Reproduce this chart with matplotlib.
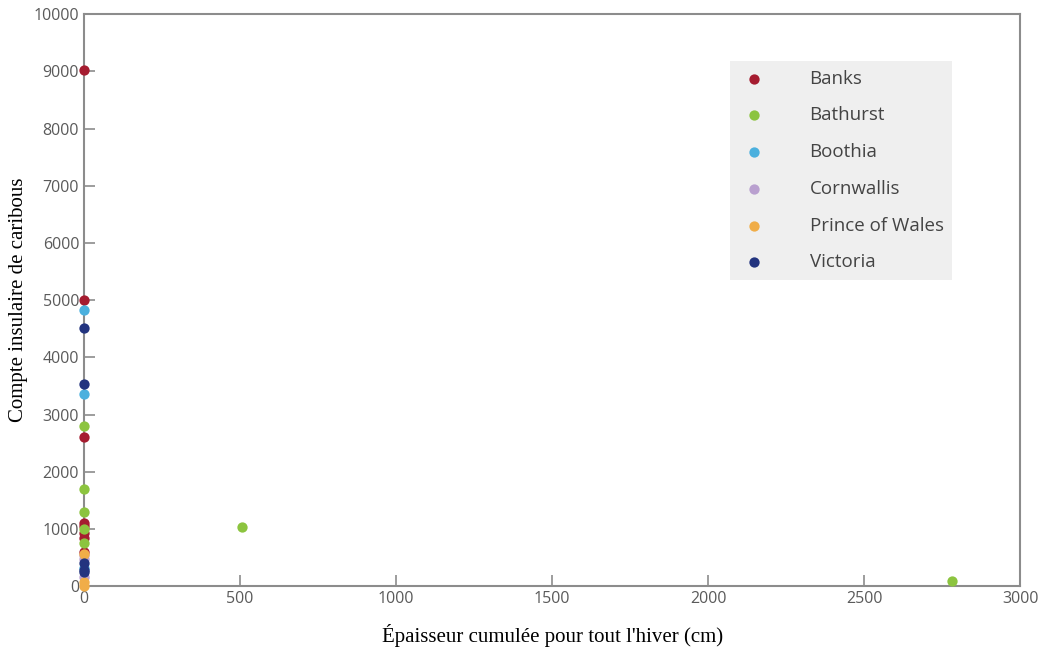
import matplotlib.pyplot as plt

islands = ["Banks", "Bathurst", "Boothia", "Cornwallis", "Prince of Wales", "Victoria"]
colors = ["#a51c30", "#8cc43f", "#4bb0de", "#b9a0cf", "#f0ad48", "#23347f"]

banks_x = [0, 0, 0, 0, 0, 0, 0, 0]
banks_y = [9030, 5000, 2600, 1100, 1060, 930, 850, 600]
bathurst_x = [0, 0, 0, 0, 0, 505, 2780]
bathurst_y = [2800, 1700, 1290, 1000, 760, 1030, 90]
boothia_x = [0, 0, 0]
boothia_y = [4830, 3360, 320]
cornwallis_x = [0, 0, 0]
cornwallis_y = [540, 480, 160]
pow_x = [0, 0, 0]
pow_y = [560, 70, 0]
victoria_x = [0, 0, 0, 0, 0]
victoria_y = [4510, 3530, 400, 290, 240]

xs = [banks_x, bathurst_x, boothia_x, cornwallis_x, pow_x, victoria_x]
ys = [banks_y, bathurst_y, boothia_y, cornwallis_y, pow_y, victoria_y]

fig = plt.figure(figsize=(10.38, 6.47), dpi=100)
ax = fig.add_axes([0.081, 0.094, 0.902, 0.884])

for name, c, x, y in zip(islands, colors, xs, ys):
    ax.scatter(x, y, s=55, color=c, label=name, zorder=3, clip_on=False, linewidths=0)

ax.set_xlim(0, 3000)
ax.set_ylim(0, 10000)
ax.set_xticks(range(0, 3001, 500))
ax.set_yticks(range(0, 10001, 1000))

for sp in ax.spines.values():
    sp.set_color("#8c8c8c")
    sp.set_linewidth(1.5)

ax.tick_params(direction="in", length=8, width=1.2, color="#8c8c8c",
               labelcolor="#5a5a5a", labelsize=11.5)
for lbl in ax.get_xticklabels() + ax.get_yticklabels():
    lbl.set_family("Open Sans")

ax.set_xlabel("Épaisseur cumulée pour tout l'hiver (cm)", family="Liberation Serif",
              fontsize=15, labelpad=12)
ax.set_ylabel("Compte insulaire de caribous", family="Liberation Serif",
              fontsize=15, labelpad=4)

leg = ax.legend(loc="upper right", bbox_to_anchor=(0.927, 0.918), frameon=True,
                fancybox=False, facecolor="#efefef", edgecolor="none", framealpha=1,
                labelspacing=1.0, handletextpad=2.1, borderpad=0.45, borderaxespad=0,
                handlelength=1.7, prop={"family": "Open Sans", "size": 13.5}, markerscale=1.0)
for t in leg.get_texts():
    t.set_color("#444444")

fig.savefig("out.png", dpi=100)
